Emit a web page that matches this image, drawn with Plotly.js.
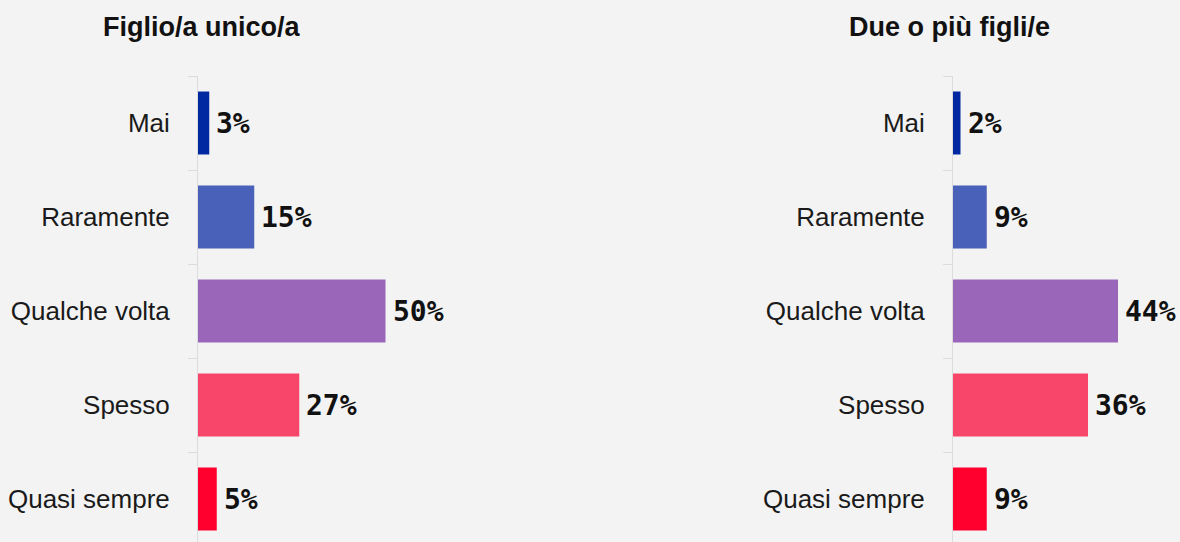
<!DOCTYPE html>
<html>
<head>
<meta charset="utf-8">
<script src="https://cdn.plot.ly/plotly-3.0.1.min.js"></script>
<style>
html,body{margin:0;padding:0;background:#f3f3f3;}
#chart{width:1180px;height:542px;}
</style>
</head>
<body>
<div id="chart"></div>
<script>
const categories = ['Mai', 'Raramente', 'Qualche volta', 'Spesso', 'Quasi sempre'];
const valuesSingleChild = [3, 15, 50, 27, 5];
const valuesMultiChild = [2, 9, 44, 36, 9];
const panelTitles = ['Figlio/a unico/a', 'Due o più figli/e'];
const barColors = ['#0028a0', '#4961b8', '#9966b9', '#f8466a', '#ff002e'];

const W = 1180, H = 542, ML = 198, MT = 76;
const plotW = W - ML, plotH = H - MT;
const panelPx = 227;               // pixel width of each panel's plotting area
const pxPerPct = 3.75;
const xMax = panelPx / pxPerPct;
const rightAxisPx = 953;
const d1 = panelPx / plotW;
const d2 = (rightAxisPx - ML) / plotW;
const bandPx = 94;
const yBottom = -0.5 + plotH / bandPx;

function barTrace(vals, xa, ya) {
  return {
    type: 'bar', orientation: 'h',
    y: categories, x: vals,
    xaxis: xa, yaxis: ya,
    marker: {color: barColors},
    hoverinfo: 'skip'
  };
}

function valueLabels(vals, xa, ya) {
  return vals.map((v, i) => ({
    text: v + '%', showarrow: false,
    xref: xa, yref: ya, x: v, y: categories[i],
    xanchor: 'left', yanchor: 'middle', xshift: 5,
    font: {family: 'DejaVu Sans Mono', size: 28, weight: 'bold', color: '#111'}
  }));
}

const yCommon = {
  type: 'category',
  categoryorder: 'array', categoryarray: categories,
  range: [yBottom, -0.5],
  showline: true, linecolor: '#dcdcdc', linewidth: 1,
  ticks: 'outside', tickson: 'boundaries', ticklen: 9, tickcolor: '#dcdcdc', tickwidth: 1,
  ticklabelstandoff: 22,
  showgrid: false, zeroline: false,
  tickfont: {family: 'Liberation Sans', size: 26, color: '#1a1a1a'},
  fixedrange: true
};
const xCommon = {
  range: [0, xMax], visible: false, showgrid: false, zeroline: false, fixedrange: true
};

function titleAnn(text, px) {
  return {
    text: text, showarrow: false,
    xref: 'paper', yref: 'paper',
    x: (px - ML) / plotW, y: (H - 27) / plotH,
    xanchor: 'center', yanchor: 'middle',
    font: {family: 'Liberation Sans', size: 27, weight: 'bold', color: '#111'}
  };
}

const layout = {
  width: W, height: H,
  margin: {l: ML, r: 0, t: MT, b: 0, pad: 0},
  paper_bgcolor: '#f3f3f3', plot_bgcolor: '#f3f3f3',
  showlegend: false,
  bargap: 0.33,
  xaxis: Object.assign({domain: [0, d1], anchor: 'y'}, xCommon),
  xaxis2: Object.assign({domain: [d2, 1], anchor: 'y2'}, xCommon),
  yaxis: Object.assign({anchor: 'x', domain: [0, 1]}, yCommon),
  yaxis2: Object.assign({anchor: 'x2', domain: [0, 1]}, yCommon),
  annotations: [titleAnn(panelTitles[0], 201), titleAnn(panelTitles[1], 949)]
    .concat(valueLabels(valuesSingleChild, 'x', 'y'))
    .concat(valueLabels(valuesMultiChild, 'x2', 'y2'))
};

Plotly.newPlot('chart', [
  barTrace(valuesSingleChild, 'x', 'y'),
  barTrace(valuesMultiChild, 'x2', 'y2')
], layout, {staticPlot: true, displayModeBar: false});
</script>
</body>
</html>
